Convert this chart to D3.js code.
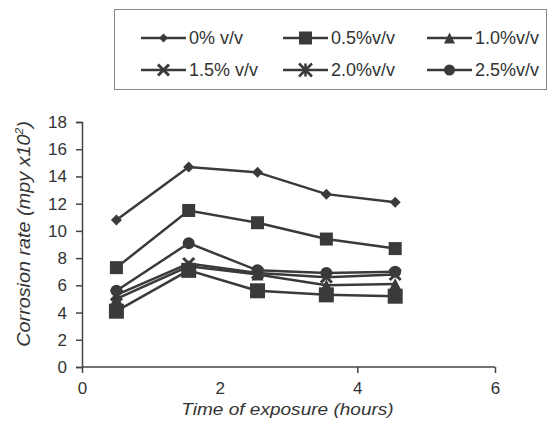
<!DOCTYPE html>
<html><head><meta charset="utf-8">
<script src="https://cdn.jsdelivr.net/npm/d3@7"></script>
<style>body{margin:0;background:#fff}svg text{font-family:"Liberation Sans",Arial,sans-serif;fill:#333}</style>
</head><body><svg id="c" width="548" height="432"></svg>
<script>
const hours = [0.5, 1.55, 2.55, 3.55, 4.55];
const seriesNames = ["0% v/v", "0.5%v/v", "1.0%v/v", "1.5% v/v", "2.0%v/v", "2.5%v/v"];
const v0  = [10.8, 14.7, 14.3, 12.7, 12.1];
const v05 = [7.3, 11.5, 10.6, 9.4, 8.7];
const v10 = [5.0, 7.4, 6.8, 6.0, 6.1];
const v15 = [5.3, 7.6, 6.9, 6.6, 6.8];
const v20 = [4.1, 7.1, 5.6, 5.3, 5.2];
const v25 = [5.6, 9.1, 7.1, 6.9, 7.0];
const xTicks = [0, 2, 4, 6];
const yTicks = [0, 2, 4, 6, 8, 10, 12, 14, 16, 18];

const series = [
  {name: seriesNames[0], values: v0,  marker: "diamond", size: 11},
  {name: seriesNames[1], values: v05, marker: "square", size: 13},
  {name: seriesNames[2], values: v10, marker: "triangle", size: 12},
  {name: seriesNames[3], values: v15, marker: "cross", size: 11},
  {name: seriesNames[4], values: v20, marker: "square", size: 15, legendMarker: "star"},
  {name: seriesNames[5], values: v25, marker: "circle", size: 12}
];
const col = "#3a3a3a";
const svg = d3.select("#c");
const x = d3.scaleLinear().domain([0, 6]).range([82, 495]);
const y = d3.scaleLinear().domain([0, 18]).range([367, 122]);

function marker(g, type, cx, cy, s) {
  if (type === "diamond") {
    g.append("path").attr("d", `M${cx},${cy - s/2}L${cx + s/2},${cy}L${cx},${cy + s/2}L${cx - s/2},${cy}Z`).attr("fill", col);
  } else if (type === "square") {
    g.append("rect").attr("x", cx - s/2).attr("y", cy - s/2).attr("width", s).attr("height", s).attr("fill", col);
  } else if (type === "triangle") {
    g.append("path").attr("d", `M${cx},${cy - s/2}L${cx + s/2},${cy + s/2}L${cx - s/2},${cy + s/2}Z`).attr("fill", col);
  } else if (type === "circle") {
    g.append("circle").attr("cx", cx).attr("cy", cy).attr("r", s/2).attr("fill", col);
  } else if (type === "cross") {
    const h = s/2;
    g.append("path").attr("d", `M${cx-h},${cy-h}L${cx+h},${cy+h}M${cx+h},${cy-h}L${cx-h},${cy+h}`).attr("stroke", col).attr("stroke-width", 3);
  } else if (type === "star") {
    const h = s/2;
    g.append("path").attr("d", `M${cx-h},${cy-h}L${cx+h},${cy+h}M${cx+h},${cy-h}L${cx-h},${cy+h}M${cx},${cy-h}L${cx},${cy+h}`).attr("stroke", col).attr("stroke-width", 2.5);
  }
}

// axes
const xAxis = svg.append("g").attr("transform", `translate(0,${y(0)})`)
  .call(d3.axisBottom(x).tickValues(xTicks).tickFormat(d3.format("d")).tickSize(6).tickPadding(9));
const yAxis = svg.append("g").attr("transform", `translate(${x(0)},0)`)
  .call(d3.axisLeft(y).tickValues(yTicks).tickFormat(d3.format("d")).tickSize(6).tickPadding(9));
[xAxis, yAxis].forEach(a => {
  a.select(".domain").attr("stroke", "#444").attr("stroke-width", 1.5);
  a.selectAll(".tick line").attr("stroke", "#444").attr("stroke-width", 1.5);
  a.selectAll(".tick text").attr("font-size", 17).attr("fill", "#333").style("font-family", "Liberation Sans, Arial, sans-serif");
});
xAxis.select(".domain").attr("d", `M${x(0)},0H${x(6)}`);
xAxis.selectAll(".tick").filter(d => d === 2).select("line").remove();

// lines
const line = d3.line().x((d, i) => x(hours[i])).y(d => y(d));
series.forEach(s => {
  svg.append("path").datum(s.values).attr("d", line).attr("fill", "none").attr("stroke", col).attr("stroke-width", 2.5);
});
series.forEach(s => {
  const g = svg.append("g");
  s.values.forEach((v, i) => marker(g, s.marker, x(hours[i]), y(v), s.size));
});

// axis titles
svg.append("text").attr("transform", `translate(${x(3) - 1},415) scale(1.12,1)`).attr("text-anchor", "middle")
  .attr("font-size", 17).attr("font-style", "italic").text("Time of exposure (hours)");
const yt = svg.append("text").attr("transform", `translate(30,234) rotate(-90) scale(1.1,1)`).attr("text-anchor", "middle")
  .attr("font-size", 18).attr("font-style", "italic");
yt.append("tspan").text("Corrosion rate  (mpy x10");
yt.append("tspan").attr("font-size", 11).attr("dy", -7).text("2");
yt.append("tspan").attr("dy", 7).text(")");

// legend
svg.append("rect").attr("x", 114.5).attr("y", 9.5).attr("width", 432).attr("height", 80)
  .attr("fill", "none").attr("stroke", "#888").attr("stroke-width", 1);
const lx = [141, 283, 427];
const rowsY = [38, 70];
series.forEach((s, i) => {
  const r = Math.floor(i / 3), c = i % 3;
  const g = svg.append("g");
  const x0 = lx[c], yy = rowsY[r];
  g.append("line").attr("x1", x0).attr("x2", x0 + 45).attr("y1", yy).attr("y2", yy).attr("stroke", col).attr("stroke-width", 2.5);
  marker(g, s.legendMarker || s.marker, x0 + 22.5, yy, s.marker === "square" ? 13 : (s.marker === "diamond" ? 9 : 11));
  g.append("text").attr("x", x0 + 48).attr("y", yy + 6).attr("font-size", 18).text(s.name);
});
</script></body></html>
